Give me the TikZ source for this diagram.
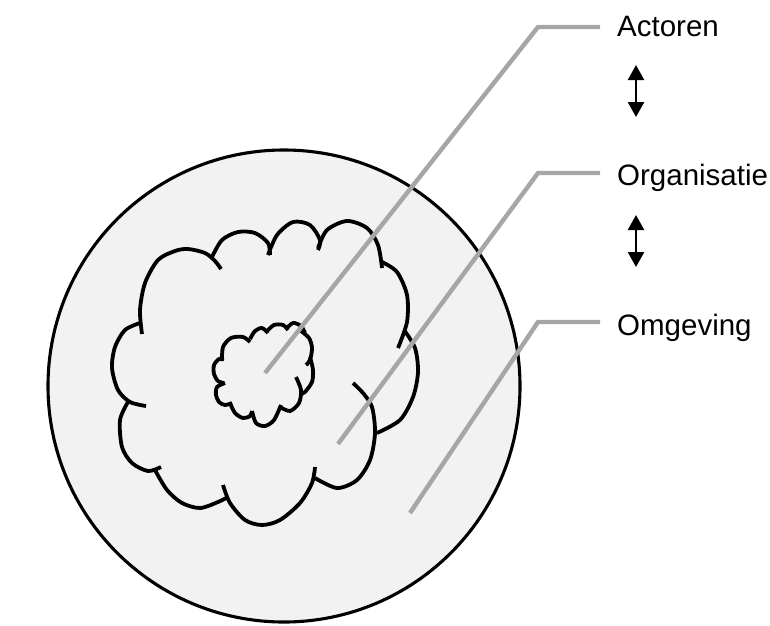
\documentclass[tikz,border=0pt]{standalone}
\usepackage{fontspec}
\setmainfont{Liberation Sans}
\usetikzlibrary{arrows.meta}
\definecolor{bgfill}{HTML}{F2F2F2}
\definecolor{callgray}{HTML}{A6A6A6}
\tikzset{
  ring/.style={draw=black, line width=3.1pt, fill=bgfill},
  bump/.style={draw=black, line width=3.8pt, line cap=butt},
  callout/.style={draw=callgray, line width=4.4pt, line join=miter},
  label/.style={anchor=base west, inner sep=0pt, font=\fontsize{29.5}{34}\selectfont},
  dblarrow/.style={line width=2.4pt, {Triangle[width=16pt,length=15pt]}-{Triangle[width=16pt,length=15pt]}}
}
\begin{document}
\begin{tikzpicture}[x=1pt,y=-1pt]
\useasboundingbox (0,0) rectangle (770,625);
% environment circle
\node[ring, circle, minimum size=472pt, inner sep=0pt] (env) at (284,386) {};
% organisation cloud (outer)
\draw[bump] plot[smooth] coordinates {(146,406) (130,402) (118,390) (112,368) (115,347) (125,330) (140,323)};
\draw[bump] plot[smooth] coordinates {(142,334) (140,310) (145,283) (158,260) (175,251) (188,249) (205,253) (215,261) (221,269)};
\draw[bump] plot[smooth] coordinates {(212,257) (222,240) (238,232) (255,233) (268,243) (270,255)};
\draw[bump] plot[smooth] coordinates {(268,255) (277,235) (293,222) (310,225) (320,240) (318,250)};
\draw[bump] plot[smooth] coordinates {(318,248) (327,230) (347,221) (367,228) (378,245) (382,268)};
\draw[bump] plot[smooth] coordinates {(382,262) (397,272) (407,295) (407,322) (398,348)};
\draw[bump] plot[smooth] coordinates {(404,330) (415,348) (418,372) (413,397) (400,420) (377,433)};
\draw[bump] plot[smooth] coordinates {(353,383) (363,393) (372,407) (375,433) (370,460) (357,480) (337,488) (315,478)};
\draw[bump] plot[smooth] coordinates {(315,467) (312,483) (300,503) (280,520) (262,525) (245,520) (230,503) (223,485)};
\draw[bump] plot[smooth] coordinates {(228,497) (218,502) (200,508) (182,503) (167,490) (155,470)};
\draw[bump] plot[smooth] coordinates {(161,467) (148,471) (132,463) (122,447) (120,420) (128,402)};
% actors cloud (inner)
\draw[bump] plot[smooth] coordinates {(225,383) (217,387) (216,395) (219,402) (225,405) (232,403)};
\draw[bump] plot[smooth] coordinates {(224,383) (218,381) (214,374) (214,365) (219,359) (224,358)};
\draw[bump] plot[smooth] coordinates {(222,361) (223,347) (231,338) (243,337) (250,342)};
\draw[bump] plot[smooth] coordinates {(250,339) (255,331) (262,328) (268,333)};
\draw[bump] plot[smooth] coordinates {(266,332) (274,325) (283,325) (288,330)};
\draw[bump] plot[smooth] coordinates {(286,329) (293,323) (301,326) (305,333)};
\draw[bump] plot[smooth] coordinates {(301,331) (309,338) (312,348) (310,360) (306,365)};
\draw[bump] plot[smooth] coordinates {(310,357) (313,370) (312,382) (305,392) (301,394)};
\draw[bump] plot[smooth] coordinates {(296,377) (301,390) (299,403) (290,411) (280,407)};
\draw[bump] plot[smooth] coordinates {(252,411) (256,423) (265,426) (274,420) (281,405)};
\draw[bump] plot[smooth] coordinates {(230,403) (235,413) (243,418) (250,416) (252,411)};
% labels
\node[label] (act) at (617,36) {Actoren};
\node[label] (org) at (617,185) {Organisatie};
\node[label] (omg) at (617,335) {Omgeving};
% callout coordinates
\coordinate (actIn) at (265,373);
\coordinate (actBend) at (538,27);
\coordinate (actEnd) at (600,27);
\coordinate (orgIn) at (338,444);
\coordinate (orgBend) at (538,173);
\coordinate (orgEnd) at (600,173);
\coordinate (omgIn) at (410,513);
\coordinate (omgBend) at (538,322);
\coordinate (omgEnd) at (600,322);
\draw[callout] (actIn) -- (actBend) -- (actEnd);
\draw[callout] (orgIn) -- (orgBend) -- (orgEnd);
\draw[callout] (omgIn) -- (omgBend) -- (omgEnd);
% double arrows
\coordinate (a1t) at (636,65);
\coordinate (a1b) at (636,117);
\coordinate (a2t) at (636,215);
\coordinate (a2b) at (636,267);
\draw[dblarrow] (a1t) -- (a1b);
\draw[dblarrow] (a2t) -- (a2b);
\end{tikzpicture}
\end{document}
